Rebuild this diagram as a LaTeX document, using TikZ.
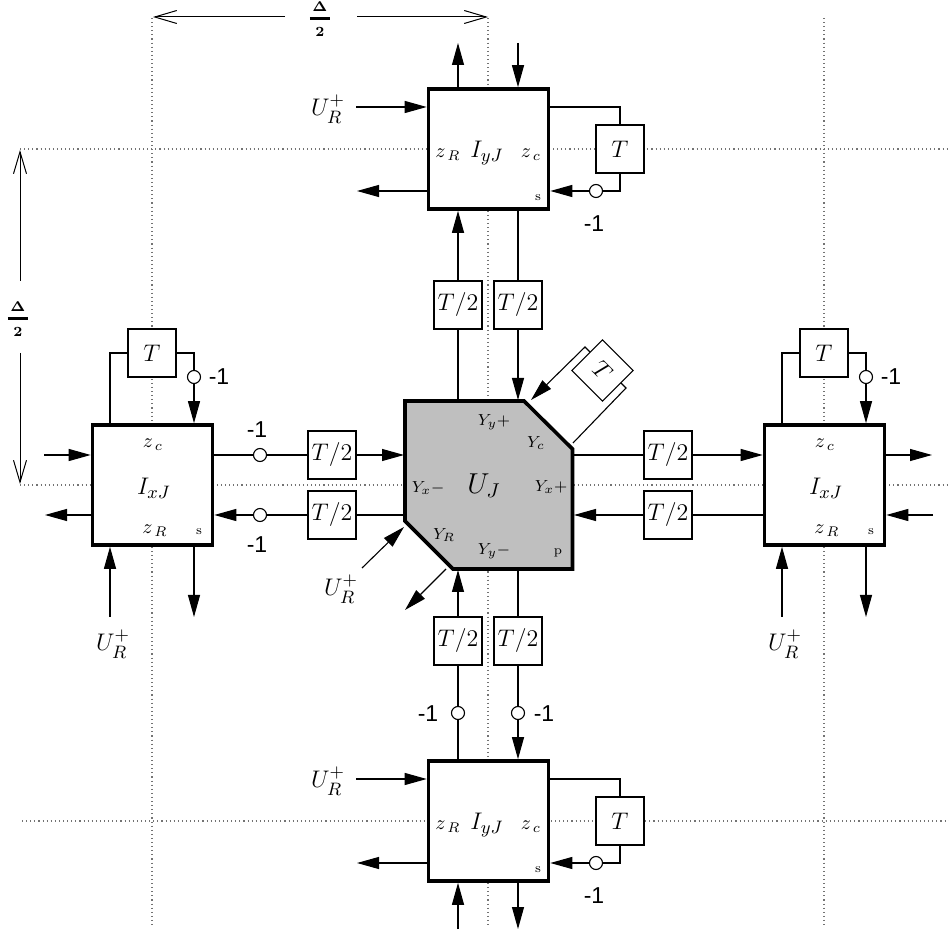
\documentclass[tikz,border=0pt]{standalone}
\usepackage{amsmath}
\usepackage{fontspec}
\newfontfamily\hv{Liberation Sans}
\usetikzlibrary{arrows.meta}
\pgfdeclarelayer{bg}
\pgfsetlayers{bg,main}
\tikzset{
 bigbox/.style={draw,fill=white,line width=1.8pt,minimum size=60pt,inner sep=0pt},
 delay/.style={draw,fill=white,line width=0.55pt,minimum size=24pt,inner sep=0pt,outer sep=0pt,font=\large},
 neg/.style={circle,draw,fill=white,line width=0.55pt,minimum size=6.5pt,inner sep=0pt,outer sep=0pt},
 lbl/.style={inner sep=0pt,font=\footnotesize},
 zlbl/.style={inner sep=0pt,font=\normalsize},
 big/.style={inner sep=0pt,font=\fontsize{13.2}{15}\selectfont},
 small/.style={inner sep=0pt,font=\fontsize{6.5}{8}\selectfont},
 num/.style={inner sep=0pt,font=\hv\fontsize{11.5}{13}\selectfont},
 wire/.style={line width=0.55pt},
 sig/.style={wire,-{Triangle[length=11pt,width=6pt]}},
 guide/.style={line width=0.55pt,black!55,dash pattern=on 0.55pt off 1.5pt},
 dim/.style={line width=0.5pt,-{Straight Barb[length=11pt,width=6.5pt,line width=0.5pt]}},
}
\newcommand{\halfD}{$\genfrac{}{}{1.5pt}{}{\hspace{1.3pt}\boldsymbol{\Delta}\hspace{1.3pt}\rule[-1.6pt]{0pt}{1pt}}{\boldsymbol{2}\rule{0pt}{6.6pt}}$}
\newcommand{\URp}{$U_R^+$}
\newcommand{\zR}{$z_{\,R}$}
\newcommand{\zC}{$z_{\,c}$}
\begin{document}
\begin{tikzpicture}[x=0.5pt,y=-0.5pt]
\useasboundingbox (0,0) rectangle (949,930);
% guides ends
\coordinate (gv1a) at (152,18); \coordinate (gv1b) at (152,927);
\coordinate (gv2a) at (488,18); \coordinate (gv2b) at (488,927);
\coordinate (gv3a) at (824,18); \coordinate (gv3b) at (824,927);
\coordinate (gh1a) at (20,149); \coordinate (gh1b) at (949,149);
\coordinate (gh2a) at (20,485); \coordinate (gh2b) at (949,485);
\coordinate (gh3a) at (22,821); \coordinate (gh3b) at (949,821);
% central block
\coordinate (ua) at (405,401); \coordinate (ub) at (524,401); \coordinate (uc) at (572.5,449);
\coordinate (ud) at (572.5,569); \coordinate (ue) at (453,569); \coordinate (uf) at (405,521);
\coordinate (un) at (488,400); \coordinate (us) at (488,570); \coordinate (uw) at (404,485); \coordinate (ux) at (574,485);
\draw[fill=black!25,line width=1.8pt,line join=miter] (ua)--(ub)--(uc)--(ud)--(ue)--(uf)--cycle;
\node[big,font=\Large] (uj) at (484,486) {$U_J$};
\node[lbl] (y1) at (494,422) {$Y_y{+}$};
\node[lbl] (y2) at (536,443) {$Y_c$};
\node[lbl] (y3) at (428,488) {$Y_x{-}$};
\node[lbl] (y4) at (551,487) {$Y_x{+}$};
\node[lbl] (y5) at (444,535) {$Y_R$};
\node[lbl] (y6) at (494,551) {$Y_y{-}$};
\node[small] (pp) at (558,553) {p};
% big blocks
\node[bigbox] (top) at (488.5,149) {};
\node[bigbox] (bot) at (488.5,821) {};
\node[bigbox] (lef) at (152.5,485) {};
\node[bigbox] (rig) at (824.5,485) {};
\node[big] (tI) at (487,153) {$I_{yJ}$};
\node[zlbl] (tzr) at (448,155) {\zR};
\node[zlbl] (tzc) at (531,155) {\zC};
\node[small] (ts) at (538,198) {s};
\node[big] (bI) at (487,825) {$I_{yJ}$};
\node[zlbl] (bzr) at (448,827) {\zR};
\node[zlbl] (bzc) at (531,827) {\zC};
\node[small] (bs) at (538,870) {s};
\node[big] (lI) at (154,488) {$I_{xJ}$};
\node[zlbl] (lzc) at (153,445) {\zC};
\node[zlbl] (lzr) at (155,531) {\zR};
\node[small] (ls) at (199,532) {s};
\node[big] (rI) at (826,488) {$I_{xJ}$};
\node[zlbl] (rzc) at (825,445) {\zC};
\node[zlbl] (rzr) at (827,531) {\zR};
\node[small] (rs) at (871,532) {s};
% T/2 blocks
\node[delay] (n1) at (458,305) {$T/2$};
\node[delay] (n2) at (518,305) {$T/2$};
\node[delay] (s1) at (458,641) {$T/2$};
\node[delay] (s2) at (518,641) {$T/2$};
\node[delay] (w1) at (332,455) {$T/2$};
\node[delay] (w2) at (332,515) {$T/2$};
\node[delay] (e1) at (668,455) {$T/2$};
\node[delay] (e2) at (668,515) {$T/2$};
% T blocks
\node[delay] (tT) at (620,149) {$T$};
\node[delay] (bT) at (620,821) {$T$};
\node[delay] (lT) at (152,353) {$T$};
\node[delay] (rT) at (824,353) {$T$};
\node[delay,rotate=-45,minimum size=21.6pt] (dT) at (602.5,370.5) {$T$};
% inverters
\node[neg] (ct) at (596,191) {};
\node[neg] (cb) at (596,863) {};
\node[neg] (cl) at (194,377) {};
\node[neg] (cr) at (866,377) {};
\node[neg] (c1) at (260,455) {};
\node[neg] (c2) at (260,515) {};
\node[neg] (c3) at (458,713) {};
\node[neg] (c4) at (518,713) {};
% numbers
\node[num] (m1) at (594,224) {-1};
\node[num] (m2) at (594,896) {-1};
\node[num] (m3) at (219,377) {-1};
\node[num] (m4) at (891,377) {-1};
\node[num] (m5) at (257,430) {-1};
\node[num] (m6) at (257,545) {-1};
\node[num] (m7) at (428,714) {-1};
\node[num] (m8) at (544,714) {-1};
% U_R labels
\node[big] (ut) at (328,109) {\URp};
\node[big] (ub2) at (328,781) {\URp};
\node[big] (ul) at (113,644) {\URp};
\node[big] (ur) at (785,644) {\URp};
\node[big] (uc2) at (341,589) {\URp};
% dimensions
\node[inner sep=0pt] (d1) at (320,19) {\halfD};
\node[inner sep=0pt] (d2) at (18,319) {\halfD};
\coordinate (d1l) at (285,17); \coordinate (d1la) at (153,17);
\coordinate (d1r) at (357,17); \coordinate (d1ra) at (488,17);
\coordinate (d2u) at (20,281); \coordinate (d2ua) at (20,150);
\coordinate (d2d) at (20,353); \coordinate (d2da) at (20,484);
\draw[dim] (d1l)--(d1la); \draw[dim] (d1r)--(d1ra);
\draw[dim] (d2u)--(d2ua); \draw[dim] (d2d)--(d2da);
% free ends
\coordinate (ta) at (458,43); \coordinate (tb) at (518,43); \coordinate (tc) at (356,107); \coordinate (td) at (357,191);
\coordinate (be) at (458,929); \coordinate (bf) at (518,929); \coordinate (bc) at (356,779); \coordinate (bd) at (357,863);
\coordinate (la) at (44,455); \coordinate (lb) at (45,515); \coordinate (lc) at (110,617); \coordinate (ld) at (194,617);
\coordinate (ra) at (932,455); \coordinate (rb) at (933,515); \coordinate (rc) at (782,617); \coordinate (rd) at (866,617);
\coordinate (ttop) at (548,107); \coordinate (tbot) at (620,191);
\coordinate (btop) at (548,779); \coordinate (bbot) at (620,863);
\coordinate (dia1) at (531,400); \coordinate (dia2) at (585,347); \coordinate (dia3) at (591,353);
\coordinate (dib1) at (573,443); \coordinate (dib2) at (626,388); \coordinate (dib3) at (620,382);
\coordinate (ina) at (362,568); \coordinate (inb) at (404,527);
\coordinate (oua) at (446,569); \coordinate (oub) at (405,610);
\begin{pgfonlayer}{bg}
\draw[guide] (gv1a)--(gv1b); \draw[guide] (gv2a)--(gv2b); \draw[guide] (gv3a)--(gv3b);
\draw[guide] (gh1a)--(gh1b); \draw[guide] (gh2a)--(gh2b); \draw[guide] (gh3a)--(gh3b);
% top block
\draw[sig] (ta |- top.north)--(ta);
\draw[sig] (tb)--(tb |- top.north);
\draw[sig] (tc)--(tc -| top.west);
\draw[sig] (td -| top.west)--(td);
\draw[wire] (ttop -| top.east)--(ttop -| tT)--(tT.north);
\draw[wire] (tT.south)--(tbot)--(ct.east);
\draw[sig] (ct.west)--(ct.west -| top.east);
% bottom block
\draw[sig] (be)--(be |- bot.south);
\draw[sig] (bf |- bot.south)--(bf);
\draw[sig] (bc)--(bc -| bot.west);
\draw[sig] (bd -| bot.west)--(bd);
\draw[wire] (btop -| bot.east)--(btop -| bT)--(bT.north);
\draw[wire] (bT.south)--(bbot)--(cb.east);
\draw[sig] (cb.west)--(cb.west -| bot.east);
% left block
\draw[sig] (la)--(la -| lef.west);
\draw[sig] (lb -| lef.west)--(lb);
\draw[sig] (lc)--(lc |- lef.south);
\draw[sig] (ld |- lef.south)--(ld);
\draw[wire] (lc |- lef.north)--(lc |- lT)--(lT.west);
\draw[wire] (lT.east)--(lT.east -| cl)--(cl.north);
\draw[sig] (cl.south)--(cl.south |- lef.north);
% right block
\draw[sig] (rig.east |- ra)--(ra);
\draw[sig] (rb)--(rb -| rig.east);
\draw[sig] (rc)--(rc |- rig.south);
\draw[sig] (rd |- rig.south)--(rd);
\draw[wire] (rc |- rig.north)--(rc |- rT)--(rT.west);
\draw[wire] (rT.east)--(rT.east -| cr)--(cr.north);
\draw[sig] (cr.south)--(cr.south |- rig.north);
% links north
\draw[wire] (n1.south)--(n1.south |- un);
\draw[sig] (n1.north)--(n1.north |- top.south);
\draw[wire] (n2.north)--(n2.north |- top.south);
\draw[sig] (n2.south)--(n2.south |- un);
% links south
\draw[wire] (bot.north -| c3)--(c3.south);
\draw[wire] (c3.north)--(s1.south);
\draw[sig] (s1.north)--(s1.north |- us);
\draw[wire] (s2.north)--(s2.north |- us);
\draw[wire] (s2.south)--(c4.north);
\draw[sig] (c4.south)--(c4.south |- bot.north);
% links west
\draw[wire] (lef.east |- c1)--(c1.west);
\draw[wire] (c1.east)--(w1.west);
\draw[sig] (w1.east)--(w1.east -| uw);
\draw[wire] (w2.east)--(w2.east -| uw);
\draw[wire] (w2.west)--(c2.east);
\draw[sig] (c2.west)--(c2.west -| lef.east);
% links east
\draw[wire] (e1.west)--(e1.west -| ux);
\draw[sig] (e1.east)--(e1.east -| rig.west);
\draw[wire] (e2.east)--(e2.east -| rig.west);
\draw[sig] (e2.west)--(e2.west -| ux);
% diagonal
\draw[sig] (dia3)--(dia2)--(dia1);
\draw[wire] (dib1)--(dib2)--(dib3);
\draw[sig] (ina)--(inb);
\draw[sig] (oua)--(oub);
\end{pgfonlayer}
\end{tikzpicture}
\end{document}
